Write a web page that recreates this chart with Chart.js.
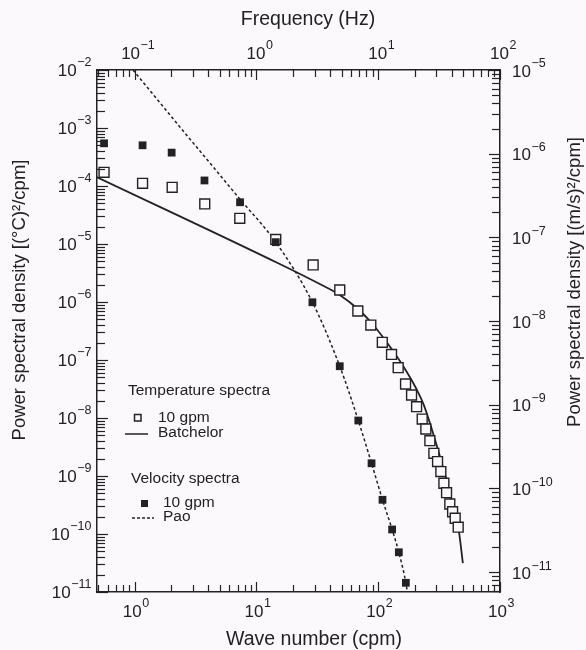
<!DOCTYPE html>
<html>
<head>
<meta charset="utf-8">
<script src="https://cdn.jsdelivr.net/npm/chart.js@4.4.1/dist/chart.umd.min.js"></script>
<style>
  html, body { margin: 0; padding: 0; background: #fbf9fc; }
  #wrap { width: 586px; height: 650px; }
</style>
</head>
<body>
<div id="wrap"><canvas id="spec"></canvas></div>
<script>
// temperature spectra, 10 gpm (left axis, (°C)^2/cpm)
const TEMP_K = [0.56, 1.16, 2.03, 3.76, 7.29, 14.4, 29.2, 48.3, 68, 86.9, 108, 128.6, 145.8, 167.6, 187.8, 206.5, 229.6, 246, 265.5, 286.4, 307, 326.7, 346, 364, 387, 408, 428.5, 453.6];
const TEMP_P = [1.72e-4, 1.11e-4, 9.5e-5, 4.9e-5, 2.77e-5, 1.2e-5, 4.35e-6, 1.61e-6, 7.0e-7, 4.0e-7, 2.02e-7, 1.25e-7, 7.36e-8, 3.86e-8, 2.49e-8, 1.57e-8, 9.6e-9, 6.46e-9, 4.06e-9, 2.46e-9, 1.77e-9, 1.19e-9, 7.5e-10, 5.15e-10, 3.29e-10, 2.42e-10, 1.87e-10, 1.31e-10];
// Batchelor fit
const BATCH_K = [0.487, 15.54, 33.1, 48.3, 68, 86.9, 117, 160, 206, 237, 286.4, 349, 414, 459, 495.5];
const BATCH_P = [1.43e-4, 4.52e-6, 2.04e-6, 1.32e-6, 7.57e-7, 4.52e-7, 2.04e-7, 7.88e-8, 3.16e-8, 1.67e-8, 4.9e-9, 1.17e-9, 2.92e-10, 1.13e-10, 3.16e-11];
// velocity spectra, 10 gpm (right axis, (m/s)^2/cpm)
const VEL_K = [0.56, 1.16, 2.01, 3.74, 7.33, 14.4, 28.8, 48.3, 68.6, 88.1, 108.4, 130, 147.6, 168.6];
const VEL_P = [1.33e-6, 1.26e-6, 1.03e-6, 4.79e-7, 2.63e-7, 8.77e-8, 1.68e-8, 2.89e-9, 6.49e-10, 2.0e-10, 7.33e-11, 3.24e-11, 1.73e-11, 7.47e-12];
// Pao fit
const PAO_K = [0.968, 2.34, 3.76, 7.29, 14.4, 28.8, 48.3, 68.6, 88.1, 108.4, 130, 147.6, 168.6, 173.4];
const PAO_P = [1e-5, 2.10e-6, 9.18e-7, 2.88e-7, 8.77e-8, 1.68e-8, 2.89e-9, 6.49e-10, 2.0e-10, 7.33e-11, 3.24e-11, 1.73e-11, 7.47e-12, 5.8e-12];

const X_RANGE = [0.49, 1000];       // wave number (cpm)
const F_RANGE = [0.049, 100];       // frequency (Hz)
const YL_RANGE = [1e-11, 1e-2];
const YR_RANGE = [5.8e-12, 1e-5];

const INK = '#222';
const BG = '#fbf9fc';
const FONT = '"Liberation Sans", Arial, Helvetica, sans-serif';

function pts(xs, ys) { return xs.map((x, i) => ({ x: x, y: ys[i] })); }

function logTicks(scale) {
  const t = [];
  const lo = Math.floor(Math.log10(scale.min)), hi = Math.ceil(Math.log10(scale.max));
  for (let e = lo; e <= hi; e++) {
    for (let m = 1; m < 10; m++) {
      const v = m * Math.pow(10, e);
      if (v >= scale.min * 0.999 && v <= scale.max * 1.001) t.push({ value: v });
    }
  }
  scale.ticks = t;
}

function isDecade(v) { const l = Math.log10(v); return Math.abs(l - Math.round(l)) < 1e-6; }

function pow10Label(ctx, exp, x, y, align) {
  ctx.font = '17px ' + FONT;
  const wb = ctx.measureText('10').width;
  const sup = exp < 0 ? '\u2212' + (-exp) : String(exp);
  ctx.font = '12.5px ' + FONT;
  const ws = ctx.measureText(sup).width;
  const w = wb + ws;
  let x0 = x;
  if (align === 'center') x0 = x - w / 2;
  else if (align === 'right') x0 = x - w;
  ctx.textAlign = 'left';
  ctx.textBaseline = 'middle';
  ctx.font = '17px ' + FONT;
  ctx.fillText('10', x0, y);
  ctx.font = '12.5px ' + FONT;
  ctx.fillText(sup, x0 + wb + 0.5, y - 8);
}

const axesPlugin = {
  id: 'axesDecor',
  beforeDraw(chart) {
    const c = chart.ctx;
    c.save();
    c.fillStyle = BG;
    c.fillRect(0, 0, chart.width, chart.height);
    c.restore();
  },
  afterDraw(chart) {
    const c = chart.ctx;
    const a = chart.chartArea;
    const s = chart.scales;
    c.save();
    c.strokeStyle = INK;
    c.fillStyle = INK;
    c.lineWidth = 1.2;
    // inward ticks
    s.x.ticks.forEach(t => {
      const p = Math.round(s.x.getPixelForValue(t.value)) + 0.5;
      const L = isDecade(t.value) ? 10 : 7;
      c.beginPath(); c.moveTo(p, a.bottom); c.lineTo(p, a.bottom - L); c.stroke();
    });
    s.x2.ticks.forEach(t => {
      const p = Math.round(s.x2.getPixelForValue(t.value)) + 0.5;
      const L = isDecade(t.value) ? 10 : 7;
      c.beginPath(); c.moveTo(p, a.top); c.lineTo(p, a.top + L); c.stroke();
    });
    s.y.ticks.forEach(t => {
      const p = Math.round(s.y.getPixelForValue(t.value)) + 0.5;
      const L = isDecade(t.value) ? 11 : 8;
      c.beginPath(); c.moveTo(a.left, p); c.lineTo(a.left + L, p); c.stroke();
    });
    s.y2.ticks.forEach(t => {
      const p = Math.round(s.y2.getPixelForValue(t.value)) + 0.5;
      const L = isDecade(t.value) ? 11 : 8;
      c.beginPath(); c.moveTo(a.right, p); c.lineTo(a.right - L, p); c.stroke();
    });
    // decade labels
    s.x.ticks.filter(t => isDecade(t.value)).forEach(t => {
      pow10Label(c, Math.round(Math.log10(t.value)), s.x.getPixelForValue(t.value) + 1, a.bottom + 20, 'center');
    });
    s.x2.ticks.filter(t => isDecade(t.value)).forEach(t => {
      pow10Label(c, Math.round(Math.log10(t.value)), s.x2.getPixelForValue(t.value) + 3, a.top - 16, 'center');
    });
    s.y.ticks.filter(t => isDecade(t.value)).forEach(t => {
      pow10Label(c, Math.round(Math.log10(t.value)), a.left - 6, s.y.getPixelForValue(t.value) + 1, 'right');
    });
    s.y2.ticks.filter(t => isDecade(t.value)).forEach(t => {
      pow10Label(c, Math.round(Math.log10(t.value)), a.right + 12, s.y2.getPixelForValue(t.value) + 2, 'left');
    });
    // axis titles
    c.font = '19.5px ' + FONT;
    c.textAlign = 'center';
    c.textBaseline = 'middle';
    c.fillText('Frequency (Hz)', 308, 20);
    c.fillText('Wave number (cpm)', 314, 640);
    c.font = '18.5px ' + FONT;
    c.save();
    c.translate(20, 300);
    c.rotate(-Math.PI / 2);
    c.fillText('Power spectral density [(\u00B0C)\u00B2/cpm]', 0, 0);
    c.restore();
    c.save();
    c.translate(575, 282);
    c.rotate(-Math.PI / 2);
    c.fillText('Power spectral density [(m/s)\u00B2/cpm]', 0, 0);
    c.restore();
    // legend
    c.font = '15.5px ' + FONT;
    c.textAlign = 'left';
    c.fillText('Temperature spectra', 128, 391);
    c.lineWidth = 1.5;
    c.strokeRect(134.5, 414.5, 6.5, 6.5);
    c.fillText('10 gpm', 158, 418);
    c.beginPath(); c.moveTo(125, 434); c.lineTo(148, 434); c.stroke();
    c.fillText('Batchelor', 158, 433);
    c.fillText('Velocity spectra', 131, 479);
    c.fillRect(141, 500, 7, 7);
    c.fillText('10 gpm', 163, 503);
    c.setLineDash([3, 2]);
    c.lineWidth = 1.3;
    c.beginPath(); c.moveTo(132, 518); c.lineTo(154, 518); c.stroke();
    c.setLineDash([]);
    c.fillText('Pao', 163, 517);
    c.restore();
  }
};

const border = { display: true, color: INK, width: 1.5 };

new Chart(document.getElementById('spec'), {
  type: 'scatter',
  data: {
    datasets: [
      {
        label: 'Temperature spectra 10 gpm',
        data: pts(TEMP_K, TEMP_P),
        yAxisID: 'y',
        pointStyle: 'rect',
        pointRadius: 7,
        borderColor: INK,
        borderWidth: 1.4,
        backgroundColor: BG,
        showLine: false,
        order: 1
      },
      {
        label: 'Velocity spectra 10 gpm',
        data: pts(VEL_K, VEL_P),
        yAxisID: 'y2',
        pointStyle: 'rect',
        pointRadius: 5.5,
        borderColor: INK,
        borderWidth: 0,
        backgroundColor: INK,
        showLine: false,
        order: 0
      },
      {
        label: 'Batchelor',
        data: pts(BATCH_K, BATCH_P),
        yAxisID: 'y',
        showLine: true,
        pointRadius: 0,
        borderColor: INK,
        borderWidth: 1.8,
        cubicInterpolationMode: 'monotone',
        order: 2
      },
      {
        label: 'Pao',
        data: pts(PAO_K, PAO_P),
        yAxisID: 'y2',
        showLine: true,
        pointRadius: 0,
        borderColor: INK,
        borderWidth: 1.5,
        borderDash: [3, 2.5],
        cubicInterpolationMode: 'monotone',
        order: 3
      }
    ]
  },
  options: {
    responsive: true,
    maintainAspectRatio: false,
    animation: false,
    layout: { padding: 0 },
    plugins: { legend: { display: false }, tooltip: { enabled: false } },
    scales: {
      x: {
        type: 'logarithmic', position: 'bottom', bounds: 'data',
        min: X_RANGE[0], max: X_RANGE[1],
        grid: { display: false }, border: border,
        ticks: { display: false },
        afterBuildTicks: logTicks,
        afterFit(s) { s.height = 58; }
      },
      x2: {
        type: 'logarithmic', position: 'top', bounds: 'data',
        min: F_RANGE[0], max: F_RANGE[1],
        grid: { display: false }, border: border,
        ticks: { display: false },
        afterBuildTicks: logTicks,
        afterFit(s) { s.height = 70; }
      },
      y: {
        type: 'logarithmic', position: 'left', bounds: 'data',
        min: YL_RANGE[0], max: YL_RANGE[1],
        grid: { display: false }, border: border,
        ticks: { display: false },
        afterBuildTicks: logTicks,
        afterFit(s) { s.width = 97; }
      },
      y2: {
        type: 'logarithmic', position: 'right', bounds: 'data',
        min: YR_RANGE[0], max: YR_RANGE[1],
        grid: { display: false }, border: border,
        ticks: { display: false },
        afterBuildTicks: logTicks,
        afterFit(s) { s.width = 86; }
      }
    }
  },
  plugins: [axesPlugin]
});
</script>
</body>
</html>
